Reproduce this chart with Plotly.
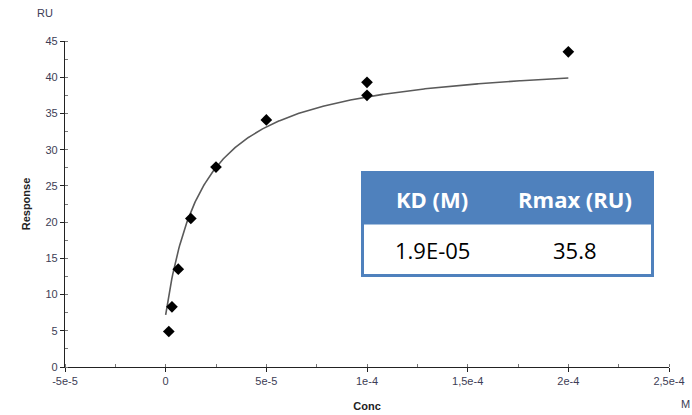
import numpy as np
import plotly.graph_objects as go

# Measured binding responses (concentration in M, response in RU)
conc = [1.56e-6, 3.125e-6, 6.25e-6, 12.5e-6, 25e-6, 50e-6, 100e-6, 100e-6, 200e-6]
response = [4.9, 8.3, 13.5, 20.5, 27.6, 34.1, 39.3, 37.5, 43.5]

# Steady-state affinity fit parameters
KD = 1.9e-5
RMAX = 35.8
OFFSET = 7.2

table_header = ["KD (M)", "Rmax (RU)"]
table_values = ["1.9E-05", "35.8"]

x_ticks = [-5e-5, 0, 5e-5, 1e-4, 1.5e-4, 2e-4, 2.5e-4]
x_tick_text = ["-5e-5", "0", "5e-5", "1e-4", "1,5e-4", "2e-4", "2,5e-4"]
y_ticks = [0, 5, 10, 15, 20, 25, 30, 35, 40, 45]

# 1:1 steady-state model curve over the fitted concentration span
fit_x = np.linspace(0, max(conc), 400)
fit_y = RMAX * fit_x / (KD + fit_x) + OFFSET

tick_col = "#3d3d55"
axis_font = dict(family="Liberation Sans, Arial", size=11, color=tick_col)

fig = go.Figure()
fig.add_trace(go.Scatter(x=fit_x, y=fit_y, mode="lines",
                         line=dict(color="#5a5a5a", width=1.6),
                         hoverinfo="skip", showlegend=False))
fig.add_trace(go.Scatter(x=conc, y=response, mode="markers",
                         marker=dict(symbol="diamond", size=9, color="black"),
                         showlegend=False))

x_range = [-5e-5, 2.5e-4]
y_range = [0, 45]

fig.update_layout(
    width=692, height=415,
    margin=dict(l=65, r=23, t=41, b=48, autoexpand=False),
    paper_bgcolor="white", plot_bgcolor="white",
    xaxis=dict(range=x_range, tickvals=x_ticks, ticktext=x_tick_text,
               automargin=False,
               showgrid=False, zeroline=False, showline=True,
               linecolor="#222", linewidth=1.3,
               ticks="outside", ticklen=4, tickcolor="#222", tickwidth=1.3,
               tickfont=axis_font,
               minor=dict(dtick=2.5e-5, tick0=-5e-5, ticks="inside",
                          ticklen=3, tickcolor="#777", showgrid=False),
               title=dict(text="<b>Conc</b>", standoff=15,
                          font=dict(family="Liberation Sans, Arial", size=11,
                                    color="#222"))),
    yaxis=dict(range=y_range, tickvals=y_ticks,
               automargin=False,
               showgrid=False, zeroline=False, showline=True,
               linecolor="#222", linewidth=1.3,
               ticks="outside", ticklen=4, tickcolor="#222", tickwidth=1.3,
               tickfont=axis_font,
               minor=dict(dtick=2.5, tick0=0, ticks="inside",
                          ticklen=3, tickcolor="#777", showgrid=False),
               title=dict(text="<b>Response</b>", standoff=12,
                          font=dict(family="Liberation Sans, Arial", size=11,
                                    color="#222"))),
    # companion axes: inner halves of the major ticks
    xaxis2=dict(range=x_range, overlaying="x", anchor="y", tickvals=x_ticks,
                automargin=False,
                showticklabels=False, showgrid=False, zeroline=False,
                showline=False, ticks="inside", ticklen=4,
                tickcolor="#222", tickwidth=1.3),
    yaxis2=dict(range=y_range, overlaying="y", anchor="x", tickvals=y_ticks,
                automargin=False,
                showticklabels=False, showgrid=False, zeroline=False,
                showline=False, ticks="inside", ticklen=4,
                tickcolor="#222", tickwidth=1.3),
)

# unit labels
fig.add_annotation(text="RU", xref="paper", yref="paper", x=-0.033, y=1.085,
                   xanchor="center", yanchor="middle", showarrow=False,
                   font=dict(family="Liberation Sans, Arial", size=11, color=tick_col))
fig.add_annotation(text="M", xref="paper", yref="paper", x=1.027, y=-0.113,
                   xanchor="center", yanchor="middle", showarrow=False,
                   font=dict(family="Liberation Sans, Arial", size=11, color=tick_col))

# fit-result table
blue = "#4f81bd"
W, H = 692, 415
ml, mr, mt, mb = 65, 23, 41, 48
pw, ph = W - ml - mr, H - mt - mb


def px(xp):
    return (xp - ml) / pw


def py(yp):
    return 1 - (yp - mt) / ph


left, right, top, mid, bottom = 362.5, 652.5, 172.5, 224.5, 275.5
fig.add_shape(type="rect", xref="paper", yref="paper",
              x0=px(left), x1=px(right), y0=py(mid), y1=py(top),
              fillcolor=blue, line=dict(width=0), layer="above")
fig.add_shape(type="rect", xref="paper", yref="paper",
              x0=px(left), x1=px(right), y0=py(bottom), y1=py(top),
              fillcolor="rgba(0,0,0,0)", line=dict(color=blue, width=3),
              layer="above")
col_centers = [432, 575]
for cx, head, val in zip(col_centers, table_header, table_values):
    fig.add_annotation(text=f"<b>{head}</b>", xref="paper", yref="paper",
                       x=px(cx), y=py((top + mid) / 2), showarrow=False,
                       xanchor="center", yanchor="middle",
                       font=dict(family="Open Sans", size=22, color="white"))
    fig.add_annotation(text=val, xref="paper", yref="paper",
                       x=px(cx), y=py((mid + bottom) / 2), showarrow=False,
                       xanchor="center", yanchor="middle",
                       font=dict(family="Open Sans", size=22, color="black"))

fig.write_html("out.html")
